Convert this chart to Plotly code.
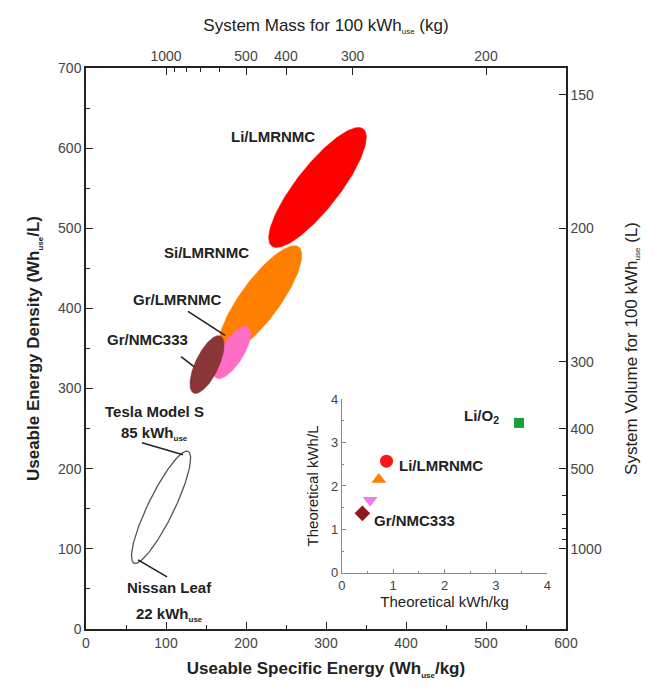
import numpy as np
import plotly.graph_objects as go

# ---- Pack-level regions: useable specific energy (Wh/kg) vs useable energy density (Wh/L)
chem_names = ["Li/LMRNMC", "Si/LMRNMC", "Gr/LMRNMC", "Gr/NMC333"]
chem_center_x = [289.4, 217.7, 182.5, 151.3]
chem_center_y = [550.9, 411.0, 345.0, 330.0]
chem_semi_major = [92.8, 81.5, 37.5, 39.4]
chem_semi_minor = [26.9, 24.5, 14.3, 14.6]
chem_tilt_deg = [51.9, 53.8, 57.9, 64.6]

# Today's vehicles (Nissan Leaf 22 kWh .. Tesla Model S 85 kWh)
ev_center_x = [93.8]
ev_center_y = [151.9]
ev_semi_major = [77.5]
ev_semi_minor = [16.3]
ev_tilt_deg = [64.0]

# ---- Theoretical cell values (inset)
theo_names = ["Li/O2", "Li/LMRNMC", "Si/LMRNMC", "Gr/LMRNMC", "Gr/NMC333"]
theo_kwh_per_kg = [3.45, 0.87, 0.72, 0.55, 0.40]
theo_kwh_per_l = [3.45, 2.57, 2.15, 1.67, 1.37]

# ---- Secondary scales: mass / volume of a 100 kWh_use system
mass_ticks_kg = [1000, 500, 400, 300, 200]
mass_minor_kg = [900, 800, 700, 600]
volume_ticks_l = [150, 200, 300, 400, 500, 1000]
volume_minor_l = [900, 800, 700, 600]
SYSTEM_WH = 100000.0

chem_colors = ["#ff0000", "#ff7f00", "#ff6ec4", "#8b3636"]
theo_colors = ["#16a03c", "#ff1414", "#ff7f00", "#f57cf0", "#8b1a1a"]
theo_symbols = ["square", "circle", "triangle-up", "triangle-down", "diamond"]
theo_sizes = [10, 13, 13, 13, 12]

FONT = "Liberation Sans, Arial, sans-serif"
TXT = "#222222"
TICK = "#444444"
SUB = "<sub><span style='font-size:8px'>use</span></sub>"


def ellipse(cx, cy, a, b, tilt_deg, n=181):
    t = np.linspace(0, 2 * np.pi, n)
    th = np.radians(tilt_deg)
    x = cx + a * np.cos(t) * np.cos(th) - b * np.sin(t) * np.sin(th)
    y = cy + a * np.cos(t) * np.sin(th) + b * np.sin(t) * np.cos(th)
    return x, y


fig = go.Figure()

# vehicle outline
for i in range(len(ev_center_x)):
    ex, ey = ellipse(ev_center_x[i], ev_center_y[i], ev_semi_major[i],
                     ev_semi_minor[i], ev_tilt_deg[i])
    fig.add_trace(go.Scatter(x=ex, y=ey, mode="lines",
                             line=dict(color="#555555", width=1.3),
                             hoverinfo="skip", showlegend=False))

# chemistry regions
for i, name in enumerate(chem_names):
    ex, ey = ellipse(chem_center_x[i], chem_center_y[i], chem_semi_major[i],
                     chem_semi_minor[i], chem_tilt_deg[i])
    fig.add_trace(go.Scatter(x=ex, y=ey, mode="lines", fill="toself",
                             fillcolor=chem_colors[i],
                             line=dict(color=chem_colors[i], width=0.5),
                             name=name, hoverinfo="name", showlegend=False))

# leader lines
leaders = [
    ((70.0, 232.5), (121.3, 217.5)),
    ((65.0, 86.3), (101.3, 65.0)),
    ((127.5, 396.3), (173.8, 366.3)),
    ((118.8, 340.0), (135.0, 327.5)),
]
for (x0, y0), (x1, y1) in leaders:
    fig.add_trace(go.Scatter(x=[x0, x1], y=[y0, y1], mode="lines",
                             line=dict(color="#222222", width=1.6),
                             hoverinfo="skip", showlegend=False))

# carrier trace so the top/right scales are drawn
fig.add_trace(go.Scatter(x=[300], y=[350], xaxis="x2", yaxis="y2", mode="markers",
                         marker=dict(opacity=0), hoverinfo="skip", showlegend=False))

# inset points
for i, name in enumerate(theo_names):
    fig.add_trace(go.Scatter(x=[theo_kwh_per_kg[i]], y=[theo_kwh_per_l[i]],
                             mode="markers", xaxis="x3", yaxis="y3",
                             marker=dict(symbol=theo_symbols[i], size=theo_sizes[i],
                                         color=theo_colors[i], line=dict(width=0)),
                             name=name, showlegend=False, cliponaxis=False))

ann = []


def label(text, x, y, size=15, bold=True, xref="x", yref="y", xanchor="center"):
    ann.append(dict(text=f"<b>{text}</b>" if bold else text, x=x, y=y,
                    xref=xref, yref=yref, showarrow=False, xanchor=xanchor,
                    yanchor="middle",
                    font=dict(family=FONT, size=size, color=TXT)))


label(chem_names[0], 233.8, 615)
label(chem_names[1], 150, 470)
label(chem_names[2], 113.8, 411.3)
label(chem_names[3], 76.3, 361.3)
label("Tesla Model S", 85, 271.3)
label("85 kWh" + SUB, 85, 244)
label("Nissan Leaf", 103.8, 51.3)
label("22 kWh" + SUB, 104, 18)

label("Li/O<sub>2</sub>", 3.1, 3.6, xref="x3", yref="y3", xanchor="right")
label("Li/LMRNMC", 1.08, 2.46, xref="x3", yref="y3", xanchor="left")
label("Gr/NMC333", 0.59, 1.21, xref="x3", yref="y3", xanchor="left")

fig.update_layout(annotations=ann)

axis_common = dict(showline=True, linecolor="#222222", linewidth=1.5,
                   ticks="inside", ticklen=7, tickwidth=1.2, tickcolor="#222222",
                   showgrid=False, zeroline=False,
                   tickfont=dict(family=FONT, size=14, color=TICK))

fig.update_layout(
    width=654, height=699,
    margin=dict(l=86, r=88, t=68, b=70),
    paper_bgcolor="white", plot_bgcolor="white",
    xaxis=dict(axis_common, range=[0, 600], dtick=100,
               minor=dict(dtick=50, ticks="inside", ticklen=4, tickcolor="#222222"),
               title=dict(text="<b>Useable Specific Energy (Wh" + SUB + "/kg)</b>",
                          font=dict(family=FONT, size=17, color=TXT), standoff=13)),
    yaxis=dict(axis_common, range=[0, 700], dtick=100,
               minor=dict(dtick=50, ticks="inside", ticklen=4, tickcolor="#222222"),
               title=dict(text="<b>Useable Energy Density (Wh" + SUB + "/L)</b>",
                          font=dict(family=FONT, size=17, color=TXT), standoff=14)),
    xaxis2=dict(axis_common, overlaying="x", side="top", range=[0, 600],
                anchor="y2",
                tickmode="array",
                tickvals=[SYSTEM_WH / m for m in mass_ticks_kg],
                ticktext=[str(m) for m in mass_ticks_kg],
                minor=dict(tickmode="array",
                           tickvals=[SYSTEM_WH / m for m in mass_minor_kg],
                           ticks="inside", ticklen=4, tickcolor="#222222"),
                title=dict(text="System Mass for 100 kWh" + SUB + " (kg)",
                           font=dict(family=FONT, size=17, color=TXT), standoff=12)),
    yaxis2=dict(axis_common, overlaying="y", side="right", range=[0, 700],
                anchor="x2",
                tickmode="array",
                tickvals=[SYSTEM_WH / v for v in volume_ticks_l],
                ticktext=[str(v) for v in volume_ticks_l],
                minor=dict(tickmode="array",
                           tickvals=[SYSTEM_WH / v for v in volume_minor_l],
                           ticks="inside", ticklen=4, tickcolor="#222222"),
                title=dict(text="System Volume for 100 kWh" + SUB + " (L)",
                           font=dict(family=FONT, size=17, color=TXT), standoff=24)),
    xaxis3=dict(domain=[0.533, 0.961], anchor="y3", range=[0, 4], dtick=1,
                showline=True, linecolor="#888888", linewidth=1,
                ticks="inside", ticklen=4, tickcolor="#888888",
                minor=dict(dtick=0.5, ticks="inside", ticklen=2, tickcolor="#888888"),
                showgrid=False, zeroline=False,
                tickfont=dict(family=FONT, size=13, color=TICK),
                title=dict(text="Theoretical kWh/kg",
                           font=dict(family=FONT, size=15, color=TXT), standoff=2)),
    yaxis3=dict(domain=[0.100, 0.410], anchor="x3", range=[0, 4], dtick=1,
                showline=True, linecolor="#888888", linewidth=1,
                ticks="inside", ticklen=4, tickcolor="#888888",
                minor=dict(dtick=0.5, ticks="inside", ticklen=2, tickcolor="#888888"),
                showgrid=False, zeroline=False,
                tickfont=dict(family=FONT, size=13, color=TICK),
                title=dict(text="Theoretical kWh/L",
                           font=dict(family=FONT, size=15, color=TXT), standoff=8)),
)

fig.write_html("out.html")
